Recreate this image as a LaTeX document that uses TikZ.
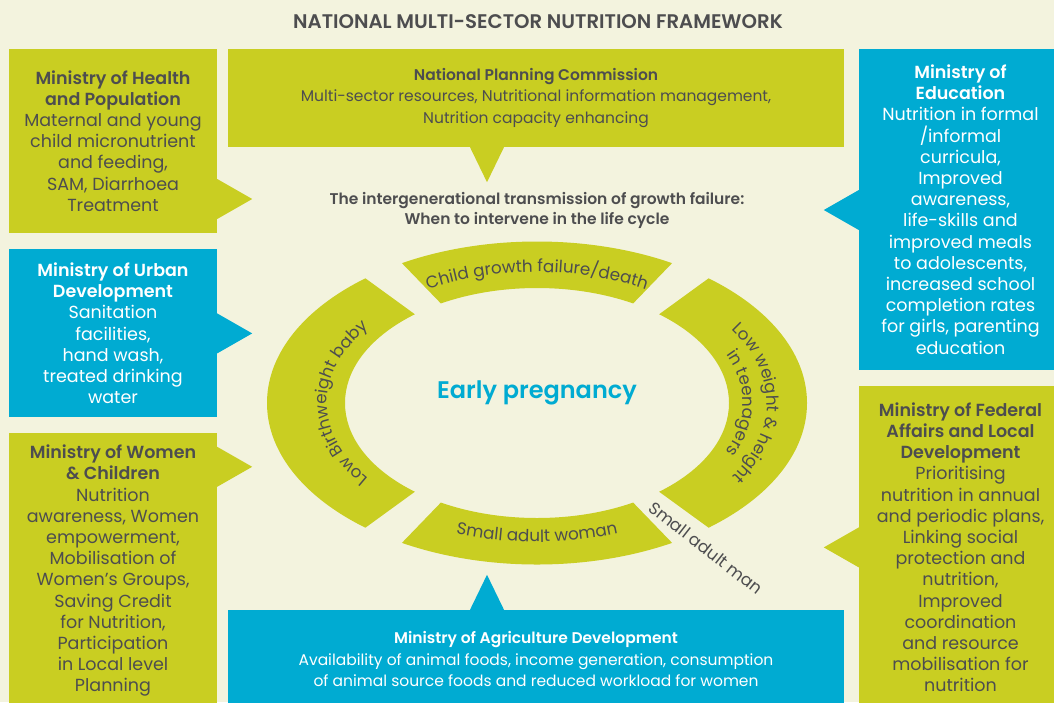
\documentclass[tikz,border=0pt]{standalone}
\usepackage{fontspec}
\setmainfont{Poppins}[BoldFont={Poppins SemiBold}]
\usetikzlibrary{positioning,calc,decorations.text}
\definecolor{nutriLime}{HTML}{C9CE22}
\definecolor{nutriBlue}{HTML}{00ABD2}
\definecolor{paper}{HTML}{F3F3DE}
\definecolor{inkGray}{HTML}{4D4D4F}
\newcommand\boxfont{\fontsize{15.5}{21.2}\selectfont}
\newcommand\sidefont{\fontsize{17.5}{21.2}\selectfont}
\newcommand\ringfont{\fontsize{16.8}{18}\selectfont}

\begin{document}
\begin{tikzpicture}[x=1pt, y=-1pt,
  limebox/.style={rectangle, fill=nutriLime, text=inkGray, inner sep=0pt,
                  align=center, font=\boxfont},
  bluebox/.style={limebox, fill=nutriBlue, text=white},
  side/.style={font=\sidefont},
  ringtext/.style={decorate, decoration={text along path,
                   text align=center, text color=inkGray}}
]
  \useasboundingbox (0,0) rectangle (1054,702);
  \fill[paper] (0,0) rectangle (1054,702);
  \clip (0,0) rectangle (1054,702);

  \node[font=\fontsize{19.7}{22}\selectfont\bfseries, text=inkGray] (title) at (538,22)
    {NATIONAL MULTI-SECTOR NUTRITION FRAMEWORK};

  % left column
  \node[limebox, side, minimum width=208pt, minimum height=184pt] (health) at (113,141)
    {\textbf{Ministry of Health}\\\textbf{and Population}\\Maternal and young\\
     child micronutrient\\and feeding,\\SAM, Diarrhoea\\Treatment};
  \node[bluebox, side, minimum width=208pt, minimum height=168pt, below=16pt of health] (urban)
    {\textbf{Ministry of Urban}\\\textbf{Development}\\Sanitation\\facilities,\\
     hand wash,\\treated drinking\\water};
  \node[limebox, side, minimum width=208pt, minimum height=276pt, below=15pt of urban] (women)
    {\textbf{Ministry of Women}\\\textbf{\& Children}\\Nutrition\\awareness, Women\\
     empowerment,\\Mobilisation of\\Women’s Groups,\\Saving Credit\\for Nutrition,\\
     Participation\\in Local level\\Planning};

  % top and bottom
  \node[limebox, minimum width=616pt, minimum height=98pt] (npc) at (536,98)
    {\textbf{National Planning Commission}\\
     Multi-sector resources, Nutritional information management,\\
     Nutrition capacity enhancing};
  \node[bluebox, minimum width=616pt, minimum height=98pt] (agri) at (536,659)
    {\textbf{Ministry of Agriculture Development}\\
     Availability of animal foods, income generation, consumption\\
     of animal source foods and reduced workload for women};

  % right column
  \node[bluebox, side, minimum width=203pt, minimum height=321pt] (edu) at (960.5,209.5)
    {\textbf{Ministry of}\\\textbf{Education}\\Nutrition in formal\\/informal\\
     curricula,\\Improved\\awareness,\\life-skills and\\improved meals\\
     to adolescents,\\increased school\\completion rates\\for girls, parenting\\
     education};
  \node[limebox, side, minimum width=203pt, minimum height=322pt, below=16pt of edu] (federal)
    {\textbf{Ministry of Federal}\\\textbf{Affairs and Local}\\\textbf{Development}\\
     Prioritising\\nutrition in annual\\and periodic plans,\\Linking social\\
     protection and\\nutrition,\\Improved\\coordination\\and resource\\
     mobilisation for\\nutrition};

  % callout pointers
  \foreach \m/\dy/\col in {health/38/nutriLime, urban/-20/nutriBlue, women/-124/nutriLime}
    \fill[\col] ($(\m.east)+(0,\dy)$) -- ++(35,20) -- ++(-35,20) -- cycle;
  \foreach \m/\dy/\col in {edu/-19.5/nutriBlue, federal/-20/nutriLime}
    \fill[\col] ($(\m.west)+(0,\dy)$) -- ++(-35,20) -- ++(35,20) -- cycle;
  \fill[nutriLime] ($(npc.south)+(-66,0)$) -- ++(17,35) -- ++(17,-35) -- cycle;
  \fill[nutriBlue] ($(agri.north)+(-66,0)$) -- ++(17,-35) -- ++(17,35) -- cycle;

  \node[font=\fontsize{15.5}{20}\selectfont\bfseries, text=inkGray, align=center]
    (cycle) at (537,210)
    {The intergenerational transmission of growth failure:\\
     When to intervene in the life cycle};

  % life cycle ring
  \coordinate (hub) at (537,403);
  \foreach \from/\to in {46/134, 144/216, 226/314, 324/396} {
    \begin{scope}
      \clip (hub) -- +(-\from:600) -- +({-(\from+\to)/2}:600) -- +(-\to:600) -- cycle;
      \fill[nutriLime, even odd rule]
        (hub) ellipse[x radius=270, y radius=161.5]
        (hub) ellipse[x radius=192, y radius=115];
    \end{scope}
  }
  \path[ringtext, decoration={text={|\ringfont|Child growth failure/death}}]
    (hub) ++(-142:219 and 131) arc[start angle=-142, end angle=-38, x radius=219, y radius=131];
  \path[ringtext, decoration={text={|\ringfont|Low Birthweight baby}}]
    (hub) ++(-232:210 and 126) arc[start angle=-232, end angle=-128, x radius=210, y radius=126];
  \path[ringtext, decoration={text={|\ringfont|Low weight {\&} height}}]
    (hub) ++(-52:230 and 138) arc[start angle=-52, end angle=52, x radius=230, y radius=138];
  \path[ringtext, decoration={text={|\ringfont|in teenagers}}]
    (hub) ++(-52:206 and 123) arc[start angle=-52, end angle=52, x radius=206, y radius=123];
  \path[ringtext, decoration={text={|\ringfont|Small adult woman}}]
    (hub) ++(142:234 and 139) arc[start angle=142, end angle=38, x radius=234, y radius=139];
  \node[font=\ringfont, text=inkGray, rotate=-38] (man) at (706,548) {Small adult man};

  \node[font=\fontsize{24}{26}\selectfont\bfseries, text=nutriBlue] (early) at (537,393)
    {Early pregnancy};
\end{tikzpicture}
\end{document}
